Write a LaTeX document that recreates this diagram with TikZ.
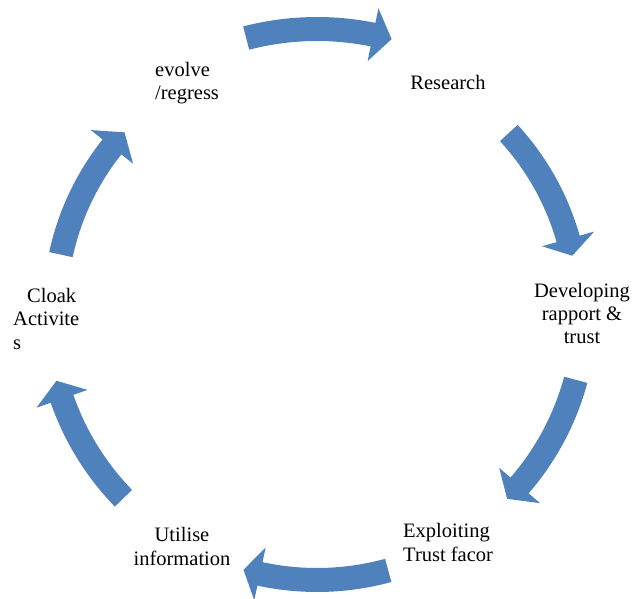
\documentclass[tikz,border=0pt]{standalone}
\usepackage{fontspec}
\setmainfont{Liberation Serif}
\definecolor{cycblue}{RGB}{79,129,189}
\tikzset{
  lbl/.style={font=\fontsize{20.5}{23.5}\selectfont, inner sep=0pt, text=black},
  cycfill/.style={fill=cycblue, draw=none}
}
% #1 centre radius, #2 tail angle, #3 head-base angle, #4 tip angle
\newcommand{\cycArrow}[4]{%
  \pgfmathsetmacro{\cycRo}{#1+12}%
  \pgfmathsetmacro{\cycRi}{#1-12}%
  \pgfmathsetmacro{\cycHo}{#1+27}%
  \pgfmathsetmacro{\cycHi}{#1-27}%
  \fill[cycfill] (#2:\cycRo pt) arc[start angle=#2, end angle=#3, radius=\cycRo pt]
    -- (#3:\cycHo pt) -- (#4:#1 pt) -- (#3:\cycHi pt) -- (#3:\cycRi pt)
    arc[start angle=#3, end angle=#2, radius=\cycRi pt] -- cycle;
}
\begin{document}
\begin{tikzpicture}[x=1pt,y=1pt]
\useasboundingbox (0pt,0pt) rectangle (633pt,-599pt);
\begin{scope}[shift={(317pt,-310pt)}]
  \cycArrow{281}{104.6}{78.5}{74.6}
  \cycArrow{261}{42.7}{15.8}{12}
  \cycArrow{268}{-15.1}{-40.9}{-44.8}
  \cycArrow{270}{-74.7}{-102.2}{-105.8}
  \cycArrow{270}{224.2}{199.2}{195.2}
  \cycArrow{262}{167.8}{141.5}{137.3}
\end{scope}
% anchor=base of a multi-line node is the baseline of its last line
\node[lbl, anchor=base west, align=left] (evolve) at (155pt,-100pt) {evolve\\/regress};
\node[lbl, anchor=base] (research) at (448pt,-90pt) {Research};
\node[lbl, anchor=base, align=center] (develop) at (582pt,-344pt) {Developing\\rapport \&\\trust};
\node[lbl, anchor=base west, align=left] (exploit) at (403pt,-561pt) {Exploiting\\Trust facor};
\node[lbl, anchor=base, align=center] (utilise) at (182pt,-565pt) {Utilise\\information};
\node[lbl, anchor=base west, align=left] (cloak) at (13pt,-349pt) {\hspace*{14pt}Cloak\\Activite\\s};
\end{tikzpicture}
\end{document}
